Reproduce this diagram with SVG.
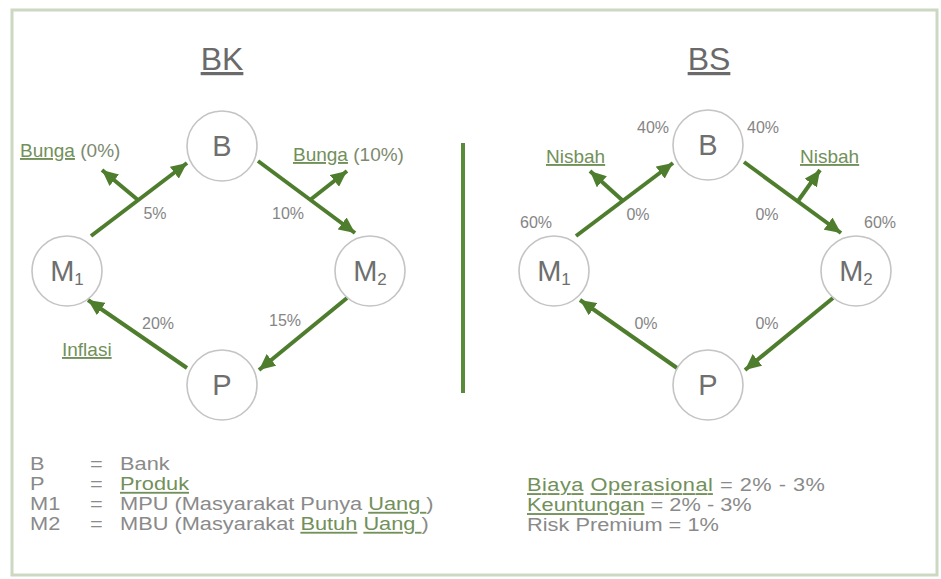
<svg xmlns="http://www.w3.org/2000/svg" width="941" height="579" viewBox="0 0 941 579">
  <style>
    .frame { fill: #ffffff; stroke: #cdd8c2; stroke-width: 3; }
    .node circle { fill: #ffffff; stroke: #c4c4c4; stroke-width: 1.6; }
    .node text { font-family: "Liberation Sans", Arial, sans-serif; font-size: 29px; fill: #6f6f6f; text-anchor: middle; }
    .sub { font-size: 17px; }
    .flow { stroke: #4f7d2e; stroke-width: 4; fill: none; marker-end: url(#head); }
    .title { font-family: "Liberation Sans", Arial, sans-serif; font-size: 32px; fill: #6a6a6a; text-anchor: middle; text-decoration: underline; }
    .pct { font-family: "Liberation Sans", Arial, sans-serif; font-size: 16px; fill: #858585; text-anchor: middle; }
    .lbl { font-family: "Liberation Sans", Arial, sans-serif; font-size: 19px; fill: #7d8a70; }
    .u { text-decoration: underline; fill: #72905a; }
    .legend { font-family: "Liberation Sans", Arial, sans-serif; font-size: 21.8px; fill: #8a8a8a; }
    .divider { stroke: #5a8a3c; stroke-width: 4; }
  </style>
  <defs>
    <marker id="head" markerUnits="userSpaceOnUse" markerWidth="17" markerHeight="15" refX="16" refY="7.5" orient="auto">
      <path d="M0,0 L16,7.5 L0,15 z" fill="#4f7d2e"/>
    </marker>
  </defs>

  <rect class="frame" x="12" y="10" width="925" height="565"/>

  <!-- titles -->
  <text class="title" x="222" y="70">BK</text>
  <text class="title" x="709" y="70">BS</text>

  <!-- separator between the two schemes -->
  <line class="divider" x1="463" y1="143" x2="463" y2="393"/>

  <!-- connectors -->
  <g id="connectors">
    <!-- BK -->
    <line class="flow" x1="91" y1="236" x2="187" y2="163"/>
    <line class="flow" x1="138" y1="200" x2="102" y2="170"/>
    <line class="flow" x1="258" y1="161" x2="355" y2="233"/>
    <line class="flow" x1="310" y1="200" x2="347" y2="171"/>
    <line class="flow" x1="347" y1="298" x2="259" y2="370"/>
    <line class="flow" x1="187" y1="368" x2="88" y2="300"/>
    <!-- BS -->
    <line class="flow" x1="576" y1="236" x2="673" y2="163"/>
    <line class="flow" x1="622" y1="200" x2="590" y2="171"/>
    <line class="flow" x1="744" y1="162" x2="841" y2="233"/>
    <line class="flow" x1="798" y1="201" x2="820" y2="170"/>
    <line class="flow" x1="833" y1="298" x2="745" y2="370"/>
    <line class="flow" x1="677" y1="368" x2="580" y2="300"/>
  </g>

  <!-- BK nodes -->
  <g id="bk-b" class="node"><circle cx="222" cy="146" r="35"/><text x="222" y="156">B</text></g>
  <g id="bk-m1" class="node"><circle cx="67" cy="271" r="35"/><text x="67" y="281">M<tspan class="sub" dy="4">1</tspan></text></g>
  <g id="bk-m2" class="node"><circle cx="370" cy="271" r="35"/><text x="370" y="281">M<tspan class="sub" dy="4">2</tspan></text></g>
  <g id="bk-p" class="node"><circle cx="222" cy="385" r="35"/><text x="222" y="395">P</text></g>

  <!-- BS nodes -->
  <g id="bs-b" class="node"><circle cx="708" cy="145" r="35"/><text x="708" y="155">B</text></g>
  <g id="bs-m1" class="node"><circle cx="554" cy="271" r="35"/><text x="554" y="281">M<tspan class="sub" dy="4">1</tspan></text></g>
  <g id="bs-m2" class="node"><circle cx="856" cy="271" r="35"/><text x="856" y="281">M<tspan class="sub" dy="4">2</tspan></text></g>
  <g id="bs-p" class="node"><circle cx="708" cy="385" r="35"/><text x="708" y="395">P</text></g>

  <!-- BK labels -->
  <g id="bk-labels">
    <text class="lbl" x="20" y="157"><tspan class="u">Bunga</tspan> (0%)</text>
    <text class="lbl" x="293" y="161"><tspan class="u">Bunga</tspan> (10%)</text>
    <text class="lbl" x="62" y="356"><tspan class="u">Inflasi</tspan></text>
    <text class="pct" x="155" y="219">5%</text>
    <text class="pct" x="288" y="219">10%</text>
    <text class="pct" x="285" y="326">15%</text>
    <text class="pct" x="158" y="329">20%</text>
  </g>

  <!-- BS labels -->
  <g id="bs-labels">
    <text class="lbl" x="546" y="163"><tspan class="u">Nisbah</tspan></text>
    <text class="lbl" x="800" y="163"><tspan class="u">Nisbah</tspan></text>
    <text class="pct" x="653" y="133">40%</text>
    <text class="pct" x="763" y="133">40%</text>
    <text class="pct" x="536" y="228">60%</text>
    <text class="pct" x="880" y="228">60%</text>
    <text class="pct" x="638" y="220">0%</text>
    <text class="pct" x="767" y="220">0%</text>
    <text class="pct" x="646" y="329">0%</text>
    <text class="pct" x="767" y="329">0%</text>
  </g>

  <!-- legend: glyphs are a little flattened (y scaled by 0.85) -->
  <g id="legend" class="legend" transform="matrix(1 0 0 0.85 0 0)">
    <text x="30" y="552.9">B</text><text x="90" y="552.9">=</text><text x="120" y="552.9">Bank</text>
    <text x="30" y="576.5">P</text><text x="90" y="576.5">=</text><text x="120" y="576.5"><tspan class="u">Produk</tspan></text>
    <text x="30" y="600">M1</text><text x="90" y="600">=</text><text x="120" y="600">MPU (Masyarakat Punya <tspan class="u">Uang </tspan>)</text>
    <text x="30" y="623.5">M2</text><text x="90" y="623.5">=</text><text x="120" y="623.5">MBU (Masyarakat <tspan class="u">Butuh</tspan> <tspan class="u">Uang </tspan>)</text>
  </g>
  <g id="notes" class="legend" transform="matrix(1 0 0 0.85 0 0)">
    <text x="527" y="578" textLength="298" lengthAdjust="spacing"><tspan class="u">Biaya</tspan> <tspan class="u">Operasional</tspan> = 2% - 3%</text>
    <text x="527" y="601.5"><tspan class="u">Keuntungan</tspan> = 2% - 3%</text>
    <text x="527" y="625">Risk Premium = 1%</text>
  </g>
</svg>
